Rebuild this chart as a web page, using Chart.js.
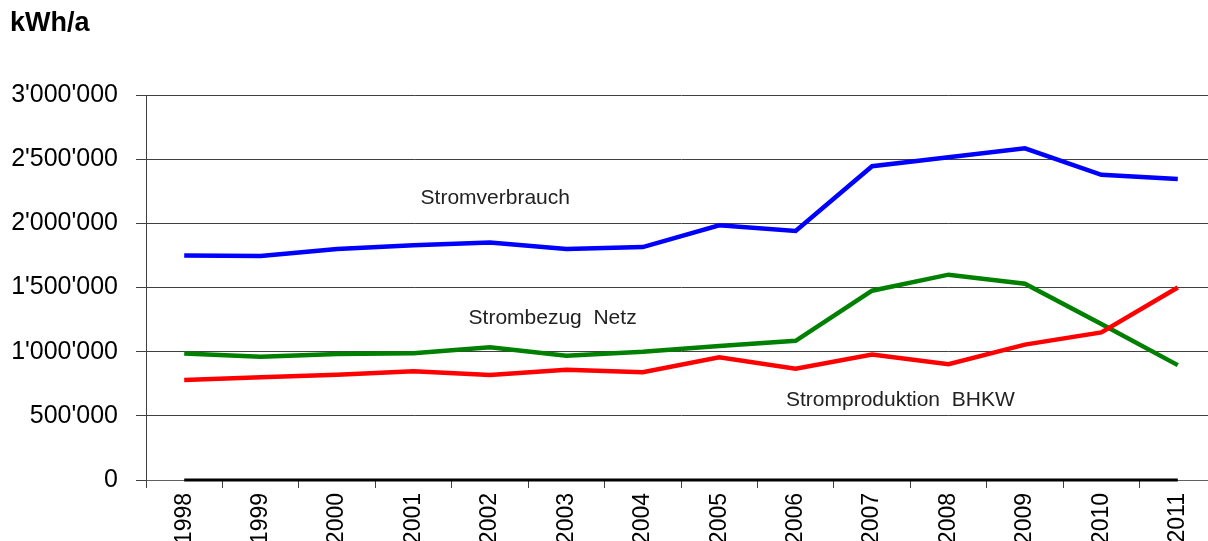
<!DOCTYPE html>
<html>
<head>
<meta charset="utf-8">
<script src="https://cdn.jsdelivr.net/npm/chart.js@4"></script>
<style>
    html, body { margin: 0; padding: 0; background: #fff; overflow: hidden; }
    #wrap { position: relative; width: 1230px; height: 541px; }
</style>
</head>
<body>
<div id="wrap"><canvas id="energyChart"></canvas></div>
<script>
// Jahre (Kategorien)
const years = ['1998', '1999', '2000', '2001', '2002', '2003', '2004', '2005', '2006', '2007', '2008', '2009', '2010', '2011'];

// Werte in kWh/a
const stromverbrauch = [1750000, 1745000, 1800000, 1830000, 1850000, 1800000, 1815000, 1985000, 1940000, 2445000, 2515000, 2585000, 2378000, 2345000];
const strombezugNetz = [985000, 960000, 982000, 987000, 1034000, 969000, 1000000, 1045000, 1085000, 1475000, 1600000, 1530000, 1215000, 895000];
const stromproduktionBHKW = [780000, 800000, 821000, 847000, 818000, 860000, 839000, 957000, 867000, 977000, 902000, 1055000, 1150000, 1500000];
const nullLinie = [0, 0, 0, 0, 0, 0, 0, 0, 0, 0, 0, 0, 0, 0];

// Y-Achse
const yTicks = [0, 500000, 1000000, 1500000, 2000000, 2500000, 3000000];

// Beschriftungen im Diagramm (Kategorie-Index, Wert)
const seriesLabels = [
    { text: 'Stromverbrauch', index: 4.07, value: 2196000 },
    { text: 'Strombezug  Netz', index: 4.82, value: 1262000 },
    { text: 'Stromproduktion  BHKW', index: 9.37, value: 623000 }
];

function swissFormat(v) {
    return String(v).replace(/\B(?=(\d{3})+(?!\d))/g, "'");
}

const textPlugin = {
    id: 'textPlugin',
    afterDraw(chart) {
        const c = chart.ctx;
        const x = chart.scales.x, y = chart.scales.y;
        c.save();
        c.fillStyle = '#000';
        c.textBaseline = 'middle';
        c.textAlign = 'left';
        c.font = "bold 27px 'Liberation Sans', Arial, sans-serif";
        c.fillText('kWh/a', 10, 24);

        c.fillStyle = '#222';
        c.textAlign = 'center';
        c.font = "21px 'Liberation Sans', Arial, sans-serif";
        seriesLabels.forEach(l => {
            c.fillText(l.text, x.getPixelForValue(l.index), y.getPixelForValue(l.value));
        });
        c.restore();
    }
};

function line(label, data, color, width) {
    return {
        label: label,
        data: data,
        borderColor: color,
        backgroundColor: color,
        borderWidth: width,
        pointRadius: 0,
        tension: 0,
        fill: false,
        clip: 6
    };
}

new Chart(document.getElementById('energyChart'), {
    type: 'line',
    data: {
        labels: years,
        datasets: [
            line('Stromproduktion BHKW', stromproduktionBHKW, '#ff0000', 4.5),
            line('Strombezug Netz', strombezugNetz, '#008000', 4.5),
            line('Stromverbrauch', stromverbrauch, '#0000ff', 4.5),
            line('Nulllinie', nullLinie, '#000000', 3)
        ]
    },
    options: {
        responsive: true,
        maintainAspectRatio: false,
        animation: false,
        layout: { padding: { top: 95, right: 14, left: 0, bottom: 0 } },
        plugins: {
            legend: { display: false },
            tooltip: { enabled: false }
        },
        scales: {
            x: {
                offset: true,
                grid: {
                    offset: true,
                    drawOnChartArea: false,
                    drawTicks: true,
                    tickLength: 8,
                    color: '#404040'
                },
                border: { display: true, color: '#606060', width: 1 },
                ticks: {
                    minRotation: 90,
                    maxRotation: 90,
                    padding: 5,
                    color: '#000',
                    font: { family: "'Liberation Sans', Arial, sans-serif", size: 23 }
                },
                afterFit(scale) { scale.height = 61; }
            },
            y: {
                min: 0,
                max: 3000000,
                afterBuildTicks(scale) {
                    scale.ticks = yTicks.map(v => ({ value: v }));
                },
                grid: {
                    color: '#404040',
                    lineWidth: 1,
                    drawTicks: true,
                    tickLength: 10
                },
                border: { display: true, color: '#404040', width: 1 },
                ticks: {
                    padding: 18,
                    color: '#000',
                    font: { family: "'Liberation Sans', Arial, sans-serif", size: 25 },
                    callback: v => swissFormat(v)
                },
                afterFit(scale) { scale.width = 146; }
            }
        }
    },
    plugins: [textPlugin]
});
</script>
</body>
</html>
